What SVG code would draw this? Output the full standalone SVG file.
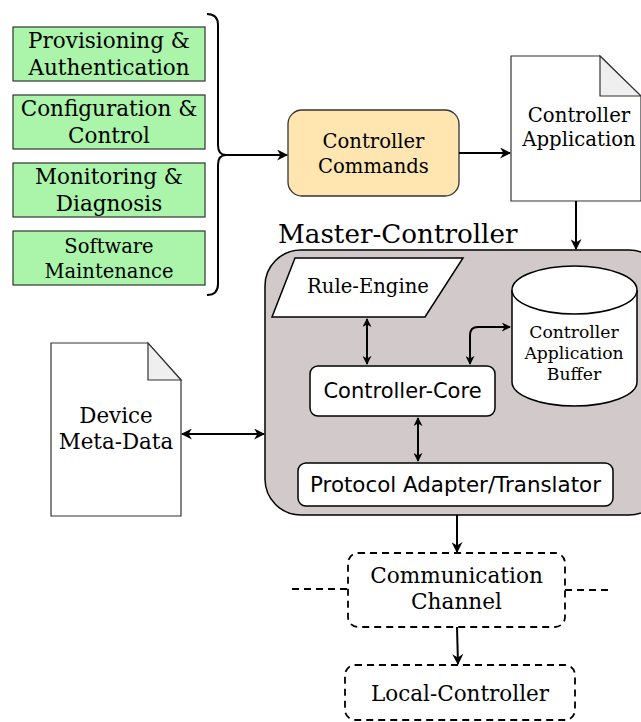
<svg xmlns="http://www.w3.org/2000/svg" width="641" height="722" viewBox="0 0 641 722">
<style>
.serif{font-family:"DejaVu Serif","Liberation Serif",serif;fill:#000;text-anchor:middle}
.sans{font-family:"DejaVu Sans","Liberation Sans",sans-serif;fill:#000;text-anchor:middle}
.green{fill:#aaf5aa;stroke:#333;stroke-width:1.2}
.white{fill:#fff;stroke:#000;stroke-width:1.5}
.doc{fill:#fff;stroke:#333;stroke-width:1.2}
.fold{fill:#efefef;stroke:#333;stroke-width:1.2}
.dash{fill:none;stroke:#000;stroke-width:1.8;stroke-dasharray:7 5}
.conn{fill:none;stroke:#000;stroke-width:2}
</style>
<defs>
<marker id="ah" viewBox="0 0 10 10" refX="9" refY="5" markerWidth="9" markerHeight="9" orient="auto-start-reverse" markerUnits="userSpaceOnUse">
<path d="M0,0 L10,5 L0,10 L3,5 z" fill="#000"/>
</marker>
<marker id="ahb" viewBox="0 0 10 10" refX="9" refY="5" markerWidth="11" markerHeight="11" orient="auto-start-reverse" markerUnits="userSpaceOnUse">
<path d="M0,0 L10,5 L0,10 L3,5 z" fill="#000"/>
</marker>
</defs>

<g id="provisioning">
<rect class="green" x="13" y="27" width="192" height="54"/>
<text class="serif" x="109" y="48" font-size="21.5">Provisioning &amp;</text>
<text class="serif" x="109" y="75" font-size="21.5">Authentication</text>
</g>
<g id="configuration">
<rect class="green" x="13" y="95" width="192" height="54"/>
<text class="serif" x="109" y="116" font-size="21.5">Configuration &amp;</text>
<text class="serif" x="109" y="143" font-size="21.5">Control</text>
</g>
<g id="monitoring">
<rect class="green" x="13" y="163" width="192" height="54"/>
<text class="serif" x="109" y="184" font-size="21.5">Monitoring &amp;</text>
<text class="serif" x="109" y="211" font-size="21.5">Diagnosis</text>
</g>
<g id="software">
<rect class="green" x="13" y="231" width="192" height="54"/>
<text class="serif" x="109" y="253" font-size="19.5">Software</text>
<text class="serif" x="109" y="278" font-size="19.5">Maintenance</text>
</g>

<g id="brace">
<path class="conn" d="M207,14 Q218,14 218,25 L218,145 Q218,155 226,155 Q218,155 218,165 L218,284 Q218,295 207,295"/>
</g>

<g id="controller-commands">
<rect x="288" y="110" width="171" height="86" rx="14" fill="#ffe6b0" stroke="#333" stroke-width="1.3"/>
<text class="serif" x="373.5" y="148" font-size="19.6">Controller</text>
<text class="serif" x="373.5" y="173" font-size="19.6">Commands</text>
</g>

<g id="controller-application">
<path class="doc" d="M511,56 L600,56 L641,96 L641,201 L511,201 Z"/>
<path class="fold" d="M600,56 L600,96 L641,96 Z"/>
<text class="serif" x="579" y="122" font-size="19.7">Controller</text>
<text class="serif" x="579" y="146" font-size="19.7">Application</text>
</g>

<g id="master-controller">
<text x="278" y="243" font-family="DejaVu Serif,Liberation Serif,serif" font-size="26.2">Master-Controller</text>
<rect x="265" y="250" width="400" height="265" rx="36" fill="#d2caca" stroke="#000" stroke-width="1.5"/>
</g>

<g id="rule-engine">
<path class="white" d="M295,258 L463,258 L425,317 L272,317 Z"/>
<text class="serif" x="368" y="293" font-size="19.6">Rule-Engine</text>
</g>

<g id="buffer">
<path class="white" d="M512,290 A62.5,24 0 0 1 637,290 L637,382 A62.5,24 0 0 1 512,382 Z"/>
<path class="white" d="M512,290 A62.5,24 0 0 0 637,290" fill="none"/>
<text class="serif" x="574" y="338" font-size="17.2">Controller</text>
<text class="serif" x="574" y="359" font-size="17.2">Application</text>
<text class="serif" x="574" y="380" font-size="17.2">Buffer</text>
</g>

<g id="controller-core">
<rect class="white" x="310" y="366" width="185" height="50" rx="8"/>
<text class="sans" x="402.5" y="398" font-size="21">Controller-Core</text>
</g>

<g id="protocol-adapter">
<rect class="white" x="298" y="463" width="315" height="43" rx="8"/>
<text class="sans" x="455.5" y="492" font-size="21.4">Protocol Adapter/Translator</text>
</g>

<g id="device-meta-data">
<path class="doc" d="M51,343 L148,343 L181,380 L181,516 L51,516 Z"/>
<path class="fold" d="M148,343 L148,380 L181,380 Z"/>
<text class="serif" x="116" y="423" font-size="21.4">Device</text>
<text class="serif" x="116" y="449" font-size="21.4">Meta-Data</text>
</g>

<g id="communication-channel">
<rect class="dash" x="348" y="553" width="217" height="74" rx="10"/>
<text class="serif" x="456.5" y="583" font-size="21.6">Communication</text>
<text class="serif" x="456.5" y="609" font-size="21.6">Channel</text>
</g>

<g id="local-controller">
<rect class="dash" x="345" y="665" width="230" height="55" rx="10"/>
<text class="serif" x="460" y="701" font-size="21.5">Local-Controller</text>
</g>

<g id="connectors">
<line class="conn" x1="226" y1="155" x2="287" y2="155" marker-end="url(#ahb)"/>
<line class="conn" x1="459" y1="153" x2="510" y2="153" marker-end="url(#ahb)"/>
<line class="conn" x1="576" y1="201" x2="576" y2="249" marker-end="url(#ahb)"/>
<line class="conn" x1="367" y1="319" x2="367" y2="364" marker-start="url(#ah)" marker-end="url(#ah)"/>
<path class="conn" d="M470,364 L470,335 Q470,327 478,327 L510,327" marker-start="url(#ah)" marker-end="url(#ah)"/>
<line class="conn" x1="418" y1="418" x2="418" y2="461" marker-start="url(#ah)" marker-end="url(#ah)"/>
<line class="conn" x1="182" y1="434" x2="264" y2="434" marker-start="url(#ahb)" marker-end="url(#ahb)"/>
<line class="conn" x1="457" y1="515" x2="457" y2="552" marker-end="url(#ahb)"/>
<line class="conn" x1="457" y1="627" x2="458" y2="664" marker-end="url(#ahb)"/>
<line class="dash" x1="292" y1="589" x2="348" y2="589"/>
<line class="dash" x1="565" y1="590" x2="612" y2="590"/>
</g>
</svg>
